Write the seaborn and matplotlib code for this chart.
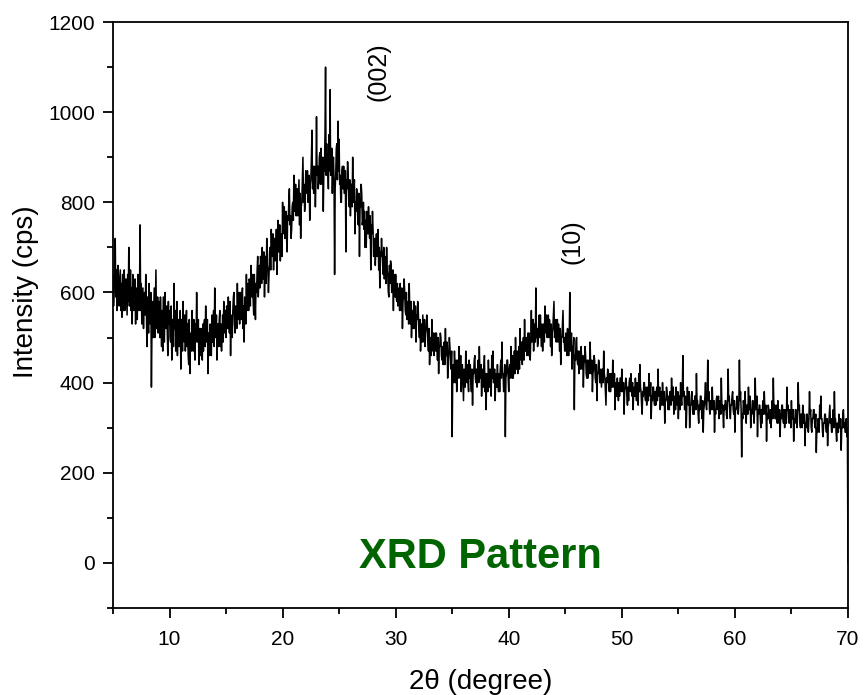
import numpy as np
import pandas as pd
import matplotlib
matplotlib.use("Agg")
import matplotlib.pyplot as plt
from matplotlib.ticker import MultipleLocator
import seaborn as sns

# intensity (cps), one value every 0.05 degree from 5.0 to 70.0
int_05_15 = [640, 570, 600, 680, 720, 590, 650, 560, 580, 660, 630, 570, 610, 650, 560, 620, 545, 640, 600, 560,
             650, 560, 580, 630, 590, 550, 640, 580, 700, 570, 600, 650, 560, 610, 530, 640, 620, 560, 590, 630,
             530, 610, 600, 540, 640, 590, 560, 620, 750, 560, 620, 530, 570, 610, 520, 580, 600, 550, 640, 570,
             480, 590, 560, 510, 620, 540, 530, 600, 390, 520, 580, 500, 560, 610, 500, 570, 650, 520, 540, 590,
             510, 580, 570, 500, 590, 530, 480, 560, 470, 590, 540, 490, 600, 530, 520, 570, 520, 460, 580, 530,
             560, 500, 490, 570, 450, 540, 530, 480, 620, 520, 560, 470, 500, 580, 460, 530, 540, 480, 510, 560,
             430, 540, 520, 470, 580, 500, 490, 550, 470, 520, 560, 480, 530, 460, 440, 540, 420, 500, 510, 470,
             560, 490, 470, 540, 480, 450, 530, 490, 600, 510, 490, 540, 440, 500, 520, 460, 520, 480, 450, 530,
             470, 530, 540, 480, 570, 500, 490, 540, 420, 510, 510, 460, 530, 490, 460, 550, 490, 520, 560, 480,
             610, 520, 500, 550, 450, 530, 530, 480, 540, 560, 480, 530, 470, 510, 550, 490, 580, 520, 510, 560]
int_15_25 = [500, 570, 560, 520, 590, 540, 510, 580, 460, 550, 540, 500, 560, 590, 600, 530, 510, 570, 550, 520,
             620, 550, 540, 600, 530, 580, 600, 540, 590, 610, 520, 570, 490, 590, 570, 530, 640, 560, 580, 620,
             560, 630, 620, 570, 660, 600, 590, 640, 580, 550, 640, 600, 540, 620, 600, 650, 680, 590, 620, 660,
             610, 680, 660, 620, 700, 640, 630, 690, 590, 660, 680, 620, 720, 660, 650, 600, 640, 690, 700, 650,
             740, 690, 680, 730, 650, 710, 720, 670, 690, 740, 640, 700, 760, 690, 710, 750, 670, 720, 730, 680,
             800, 730, 740, 790, 720, 760, 780, 720, 690, 770, 760, 800, 830, 750, 770, 720, 740, 790, 800, 760,
             860, 780, 790, 840, 770, 810, 830, 770, 810, 850, 750, 820, 720, 790, 800, 850, 900, 800, 840, 780,
             800, 870, 860, 820, 870, 800, 810, 860, 760, 840, 850, 900, 960, 830, 880, 820, 830, 880, 790, 850,
             990, 860, 880, 830, 850, 900, 910, 840, 920, 870, 840, 900, 780, 870, 870, 950, 1100, 860, 930, 880,
             880, 830, 950, 870, 1050, 860, 870, 920, 820, 880, 900, 850, 640, 830, 860, 920, 930, 850, 980, 870]
int_25_35 = [940, 840, 860, 800, 800, 870, 880, 830, 880, 820, 820, 870, 690, 850, 830, 890, 860, 810, 790, 850,
             770, 830, 840, 790, 900, 810, 800, 850, 730, 800, 780, 830, 810, 760, 750, 820, 680, 790, 790, 840,
             820, 750, 760, 800, 740, 780, 700, 760, 700, 780, 770, 730, 790, 740, 720, 770, 650, 750, 730, 780,
             740, 680, 690, 720, 660, 700, 730, 680, 720, 740, 650, 700, 610, 690, 680, 720, 690, 660, 640, 700,
             630, 680, 670, 620, 700, 650, 640, 600, 590, 660, 620, 670, 660, 600, 610, 650, 560, 640, 630, 590,
             640, 590, 580, 620, 570, 600, 610, 560, 620, 580, 560, 610, 520, 580, 590, 630, 600, 560, 550, 600,
             540, 570, 580, 530, 620, 560, 530, 580, 500, 550, 560, 520, 580, 540, 520, 570, 490, 550, 540, 580,
             560, 520, 500, 540, 470, 510, 530, 490, 550, 520, 490, 540, 480, 510, 520, 550, 530, 490, 470, 520,
             440, 490, 500, 460, 540, 490, 470, 510, 460, 490, 510, 470, 510, 480, 450, 500, 420, 480, 480, 510,
             500, 460, 450, 480, 440, 470, 490, 440, 520, 460, 460, 490, 410, 450, 470, 500, 480, 440, 430, 470]
int_35_45 = [280, 420, 440, 400, 470, 430, 400, 450, 380, 420, 450, 410, 480, 430, 410, 460, 380, 430, 440, 400,
             360, 430, 420, 390, 470, 420, 400, 440, 400, 380, 450, 410, 440, 400, 380, 430, 350, 420, 420, 450,
             460, 410, 400, 430, 390, 420, 450, 400, 480, 420, 410, 440, 370, 410, 430, 390, 430, 460, 380, 420,
             340, 420, 410, 380, 450, 410, 390, 430, 400, 370, 460, 410, 470, 400, 400, 430, 360, 410, 420, 390,
             440, 400, 380, 420, 380, 430, 450, 410, 490, 420, 420, 380, 400, 440, 280, 410, 420, 450, 450, 410,
             380, 430, 440, 410, 480, 440, 410, 460, 410, 440, 470, 420, 500, 440, 430, 470, 420, 450, 480, 430,
             520, 460, 450, 490, 440, 480, 500, 450, 540, 470, 470, 500, 460, 490, 510, 460, 510, 480, 450, 500,
             560, 490, 500, 540, 470, 510, 530, 490, 610, 500, 520, 480, 490, 530, 550, 500, 550, 510, 480, 530,
             470, 520, 530, 490, 570, 520, 510, 550, 500, 530, 550, 500, 540, 520, 480, 530, 460, 510, 520, 550,
             580, 500, 510, 540, 490, 520, 540, 490, 530, 510, 470, 520, 440, 500, 500, 530, 560, 490, 500, 470]
int_45_55 = [470, 510, 500, 460, 520, 480, 460, 500, 600, 470, 480, 510, 430, 480, 470, 500, 340, 460, 450, 490,
             500, 450, 440, 470, 420, 460, 470, 430, 480, 450, 430, 460, 390, 440, 450, 480, 460, 420, 410, 450,
             410, 440, 450, 420, 490, 430, 420, 450, 380, 420, 430, 460, 450, 410, 400, 440, 360, 420, 420, 450,
             440, 400, 400, 430, 390, 410, 430, 400, 470, 420, 410, 380, 350, 410, 400, 430, 420, 390, 380, 420,
             380, 410, 420, 390, 450, 400, 390, 420, 340, 390, 400, 370, 410, 390, 360, 400, 370, 410, 410, 380,
             430, 390, 380, 400, 330, 380, 390, 410, 400, 370, 350, 390, 360, 400, 410, 380, 420, 390, 370, 400,
             340, 380, 390, 370, 410, 380, 360, 400, 380, 350, 420, 380, 440, 390, 380, 350, 330, 380, 370, 400,
             400, 370, 360, 390, 350, 380, 390, 360, 420, 380, 370, 400, 320, 370, 360, 390, 390, 360, 350, 380,
             350, 380, 390, 360, 430, 370, 370, 390, 340, 370, 380, 350, 400, 370, 350, 380, 310, 360, 360, 390,
             380, 360, 340, 370, 340, 380, 380, 350, 410, 370, 360, 390, 330, 360, 370, 340, 390, 360, 350, 380]
int_55_65 = [320, 360, 370, 340, 400, 360, 350, 380, 460, 370, 380, 340, 340, 370, 300, 350, 390, 360, 350, 380,
             300, 350, 350, 370, 380, 340, 330, 360, 330, 370, 370, 340, 420, 360, 360, 330, 310, 350, 340, 370,
             370, 340, 320, 360, 290, 340, 350, 370, 400, 350, 340, 370, 450, 360, 380, 340, 330, 360, 360, 340,
             390, 350, 340, 360, 290, 340, 330, 360, 370, 340, 350, 370, 320, 350, 360, 330, 410, 350, 350, 330,
             300, 350, 340, 360, 360, 330, 320, 350, 430, 360, 370, 340, 320, 350, 350, 370, 380, 340, 330, 360,
             290, 340, 340, 360, 370, 340, 330, 350, 450, 360, 380, 340, 235, 330, 320, 360, 350, 330, 380, 340,
             310, 350, 350, 330, 390, 350, 340, 370, 300, 340, 330, 360, 360, 330, 310, 350, 410, 340, 350, 370,
             280, 340, 330, 350, 350, 320, 300, 340, 310, 350, 360, 330, 380, 340, 330, 350, 270, 330, 320, 350,
             340, 320, 310, 340, 300, 330, 360, 320, 410, 340, 350, 320, 320, 350, 340, 310, 360, 330, 310, 340,
             280, 330, 320, 350, 350, 320, 310, 340, 300, 330, 340, 310, 390, 340, 350, 320, 310, 340, 330, 300]
int_65_70 = [360, 320, 320, 340, 270, 320, 310, 340, 340, 310, 300, 330, 400, 340, 350, 310, 300, 330, 330, 300,
             350, 310, 310, 330, 260, 310, 300, 330, 330, 300, 290, 320, 380, 330, 340, 300, 290, 320, 320, 340,
             340, 310, 300, 330, 245, 300, 290, 320, 320, 290, 350, 320, 370, 320, 320, 290, 280, 310, 310, 330,
             330, 300, 290, 320, 260, 300, 310, 330, 350, 310, 320, 290, 290, 320, 340, 300, 380, 320, 320, 290,
             270, 310, 310, 290, 330, 300, 300, 320, 250, 300, 300, 330, 340, 300, 310, 290, 290, 320, 280, 300,
             0]

intensity = int_05_15 + int_15_25 + int_25_35 + int_35_45 + int_45_55 + int_55_65 + int_65_70
two_theta = np.round(np.linspace(5.0, 70.0, len(intensity)), 2)

df = pd.DataFrame({"two_theta": two_theta, "intensity": intensity})

peak_labels = ["(002)", "(10)"]
peak_pos = [28.5, 45.6]
peak_y = [1089, 712]

sns.set_style("ticks", {"axes.edgecolor": "black", "text.color": "black",
                        "axes.labelcolor": "black", "xtick.color": "black",
                        "ytick.color": "black"})
plt.rcParams["font.family"] = ["Liberation Sans", "DejaVu Sans"]

fig = plt.figure(figsize=(8.65, 6.95), dpi=100)
ax = fig.add_axes([0.1306, 0.1252, 0.8497, 0.8431])

sns.lineplot(data=df, x="two_theta", y="intensity", color="black", linewidth=1.1, ax=ax)

for lab, xp, yp in zip(peak_labels, peak_pos, peak_y):
    ax.text(xp, yp, lab, rotation=90, ha="center", va="center", fontsize=18)

ax.text(37.5, 14, "XRD Pattern", color="#006400", fontsize=30, fontweight="bold",
        ha="center", va="center")

ax.set_xlim(5, 70)
ax.set_ylim(-100, 1200)
ax.xaxis.set_major_locator(MultipleLocator(10))
ax.xaxis.set_minor_locator(MultipleLocator(5))
ax.yaxis.set_major_locator(MultipleLocator(200))
ax.yaxis.set_minor_locator(MultipleLocator(100))
ax.tick_params(which="major", direction="out", length=7, width=1.3, labelsize=15)
ax.tick_params(which="minor", direction="out", length=4, width=1.3)
ax.tick_params(axis="x", which="major", pad=9)
ax.tick_params(axis="y", which="major", pad=6)
for s in ax.spines.values():
    s.set_linewidth(1.3)

ax.set_xlabel("2θ (degree)", fontsize=20, labelpad=14)
ax.set_ylabel("Intensity (cps)", fontsize=20)
ax.yaxis.set_label_coords(-0.1, 0.54)

fig.savefig("out.png", dpi=100)
